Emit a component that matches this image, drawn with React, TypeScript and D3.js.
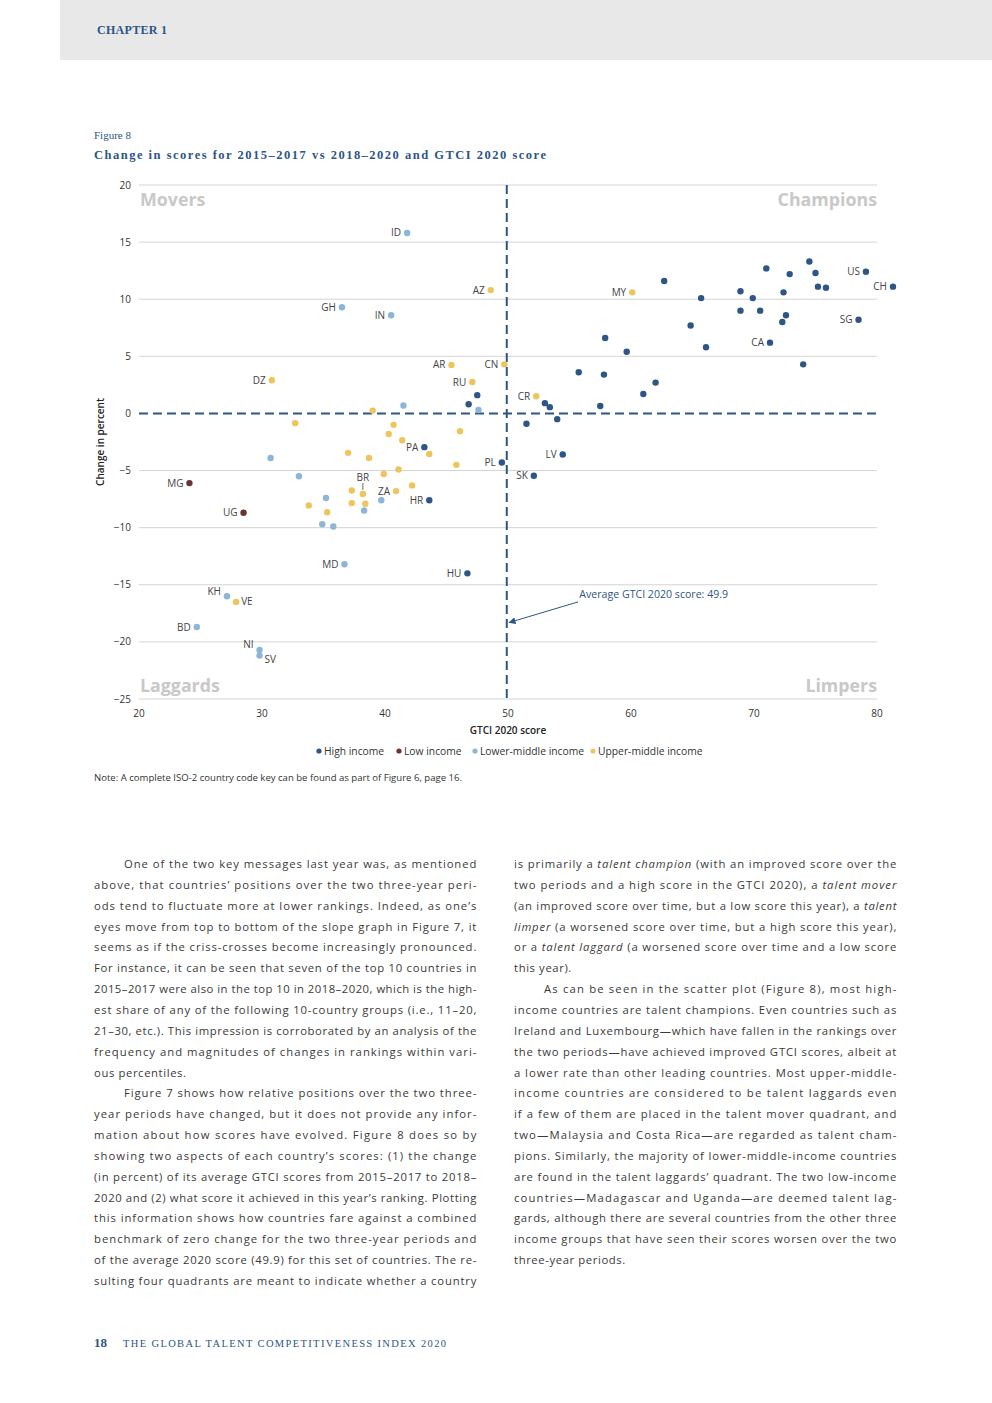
import React from "react";
import * as d3 from "d3";

// GTCI 2020 score, change in percent (2015-17 vs 2018-20)
type Pt = { code: string; score: number; change: number };

const highIncome: Pt[] = [
  { code: "CH", score: 81.3, change: 11.1 },
  { code: "US", score: 79.1, change: 12.4 },
  { code: "SG", score: 78.5, change: 8.2 },
  { code: "CA", score: 71.3, change: 6.2 },
  { code: "", score: 62.7, change: 11.6 },
  { code: "", score: 71.0, change: 12.7 },
  { code: "", score: 74.5, change: 13.3 },
  { code: "", score: 75.0, change: 12.3 },
  { code: "", score: 72.9, change: 12.2 },
  { code: "", score: 75.2, change: 11.1 },
  { code: "", score: 75.85, change: 11.0 },
  { code: "", score: 72.4, change: 10.6 },
  { code: "", score: 68.9, change: 10.7 },
  { code: "", score: 69.9, change: 10.1 },
  { code: "", score: 65.7, change: 10.1 },
  { code: "", score: 68.9, change: 9.0 },
  { code: "", score: 70.5, change: 9.0 },
  { code: "", score: 72.6, change: 8.6 },
  { code: "", score: 72.3, change: 8.0 },
  { code: "", score: 64.85, change: 7.7 },
  { code: "", score: 66.1, change: 5.8 },
  { code: "", score: 57.9, change: 6.6 },
  { code: "", score: 59.65, change: 5.4 },
  { code: "", score: 74.0, change: 4.3 },
  { code: "", score: 55.75, change: 3.6 },
  { code: "", score: 57.8, change: 3.4 },
  { code: "", score: 62.0, change: 2.7 },
  { code: "", score: 61.0, change: 1.7 },
  { code: "", score: 53.0, change: 0.9 },
  { code: "", score: 53.4, change: 0.55 },
  { code: "", score: 57.5, change: 0.65 },
  { code: "", score: 51.5, change: -0.9 },
  { code: "", score: 54.0, change: -0.5 },
  { code: "LV", score: 54.45, change: -3.6 },
  { code: "SK", score: 52.1, change: -5.45 },
  { code: "", score: 47.5, change: 1.6 },
  { code: "", score: 46.8, change: 0.8 },
  { code: "PA", score: 43.2, change: -2.95 },
  { code: "PL", score: 49.5, change: -4.3 },
  { code: "HR", score: 43.6, change: -7.6 },
  { code: "HU", score: 46.7, change: -14.0 },
];

const lowIncome: Pt[] = [
  { code: "MG", score: 24.1, change: -6.1 },
  { code: "UG", score: 28.5, change: -8.7 },
];

const lowerMiddle: Pt[] = [
  { code: "ID", score: 41.8, change: 15.8 },
  { code: "GH", score: 36.5, change: 9.3 },
  { code: "IN", score: 40.5, change: 8.6 },
  { code: "", score: 47.6, change: 0.3 },
  { code: "", score: 41.5, change: 0.7 },
  { code: "", score: 30.7, change: -3.9 },
  { code: "", score: 33.0, change: -5.5 },
  { code: "", score: 39.7, change: -7.6 },
  { code: "", score: 35.2, change: -7.4 },
  { code: "", score: 38.3, change: -8.5 },
  { code: "", score: 34.9, change: -9.7 },
  { code: "", score: 35.8, change: -9.9 },
  { code: "MD", score: 36.7, change: -13.2 },
  { code: "KH", score: 27.15, change: -16.0 },
  { code: "BD", score: 24.7, change: -18.7 },
  { code: "NI", score: 29.8, change: -20.7 },
  { code: "SV", score: 29.8, change: -21.2 },
];

const upperMiddle: Pt[] = [
  { code: "AZ", score: 48.6, change: 10.8 },
  { code: "MY", score: 60.1, change: 10.6 },
  { code: "AR", score: 45.4, change: 4.25 },
  { code: "CN", score: 49.7, change: 4.3 },
  { code: "RU", score: 47.1, change: 2.75 },
  { code: "DZ", score: 30.8, change: 2.9 },
  { code: "CR", score: 52.3, change: 1.5 },
  { code: "", score: 39.0, change: 0.25 },
  { code: "", score: 32.7, change: -0.85 },
  { code: "", score: 40.7, change: -1.0 },
  { code: "", score: 40.3, change: -1.8 },
  { code: "", score: 41.4, change: -2.35 },
  { code: "", score: 46.1, change: -1.55 },
  { code: "", score: 43.6, change: -3.55 },
  { code: "", score: 37.0, change: -3.45 },
  { code: "", score: 38.7, change: -3.9 },
  { code: "", score: 45.8, change: -4.5 },
  { code: "", score: 41.1, change: -4.9 },
  { code: "", score: 39.9, change: -5.3 },
  { code: "", score: 42.2, change: -6.3 },
  { code: "", score: 37.3, change: -6.75 },
  { code: "BR", score: 38.2, change: -7.05 },
  { code: "ZA", score: 40.9, change: -6.8 },
  { code: "", score: 33.8, change: -8.05 },
  { code: "", score: 37.3, change: -7.85 },
  { code: "", score: 38.4, change: -7.9 },
  { code: "", score: 35.3, change: -8.65 },
  { code: "VE", score: 27.9, change: -16.5 },
];

const groups = [
  { name: "High income", color: "#2d5585", points: highIncome },
  { name: "Low income", color: "#6a3431", points: lowIncome },
  { name: "Lower-middle income", color: "#8cb5d8", points: lowerMiddle },
  { name: "Upper-middle income", color: "#eec55c", points: upperMiddle },
];

const xTicks = [20, 30, 40, 50, 60, 70, 80];
const yTicks = [20, 15, 10, 5, 0, -5, -10, -15, -20, -25];
const averageScore = 49.9;

// label side: default left of the point
const labelSide: Record<string, string> = { VE: "right", SV: "rightBelow", NI: "leftAbove", BR: "above", KH: "leftAbove" };

const col1: { t: string; indent?: boolean; last?: boolean }[] = [
  { t: "One of the two key messages last year was, as mentioned", indent: true },
  { t: "above, that countries’ positions over the two three-year peri-" },
  { t: "ods tend to fluctuate more at lower rankings. Indeed, as one’s" },
  { t: "eyes move from top to bottom of the slope graph in Figure 7, it" },
  { t: "seems as if the criss-crosses become increasingly pronounced." },
  { t: "For instance, it can be seen that seven of the top 10 countries in" },
  { t: "2015–2017 were also in the top 10 in 2018–2020, which is the high-" },
  { t: "est share of any of the following 10-country groups (i.e., 11–20," },
  { t: "21–30, etc.). This impression is corroborated by an analysis of the" },
  { t: "frequency and magnitudes of changes in rankings within vari-" },
  { t: "ous percentiles.", last: true },
  { t: "Figure 7 shows how relative positions over the two three-", indent: true },
  { t: "year periods have changed, but it does not provide any infor-" },
  { t: "mation about how scores have evolved. Figure 8 does so by" },
  { t: "showing two aspects of each country’s scores: (1) the change" },
  { t: "(in percent) of its average GTCI scores from 2015–2017 to 2018–" },
  { t: "2020 and (2) what score it achieved in this year’s ranking. Plotting" },
  { t: "this information shows how countries fare against a combined" },
  { t: "benchmark of zero change for the two three-year periods and" },
  { t: "of the average 2020 score (49.9) for this set of countries. The re-" },
  { t: "sulting four quadrants are meant to indicate whether a country" },
];

const col2: { t: string; indent?: boolean; last?: boolean }[] = [
  { t: "is primarily a _talent champion_ (with an improved score over the" },
  { t: "two periods and a high score in the GTCI 2020), a _talent mover_" },
  { t: "(an improved score over time, but a low score this year), a _talent_" },
  { t: "_limper_ (a worsened score over time, but a high score this year)," },
  { t: "or a _talent laggard_ (a worsened score over time and a low score" },
  { t: "this year).", last: true },
  { t: "As can be seen in the scatter plot (Figure 8), most high-", indent: true },
  { t: "income countries are talent champions. Even countries such as" },
  { t: "Ireland and Luxembourg—which have fallen in the rankings over" },
  { t: "the two periods—have achieved improved GTCI scores, albeit at" },
  { t: "a lower rate than other leading countries. Most upper-middle-" },
  { t: "income countries are considered to be talent laggards even" },
  { t: "if a few of them are placed in the talent mover quadrant, and" },
  { t: "two—Malaysia and Costa Rica—are regarded as talent cham-" },
  { t: "pions. Similarly, the majority of lower-middle-income countries" },
  { t: "are found in the talent laggards’ quadrant. The two low-income" },
  { t: "countries—Madagascar and Uganda—are deemed talent lag-" },
  { t: "gards, although there are several countries from the other three" },
  { t: "income groups that have seen their scores worsen over the two" },
  { t: "three-year periods.", last: true },
];

const blue = "#2d5585";
const sans = "'Open Sans', 'DejaVu Sans', sans-serif";
const serif = "'Liberation Serif', 'DejaVu Serif', serif";

function Line({ x, y, w, item }: { x: number; y: number; w: number; item: { t: string; indent?: boolean; last?: boolean } }) {
  const parts = item.t.split("_");
  const x0 = item.indent ? x + 30 : x;
  const width = w - (item.indent ? 30 : 0);
  return (
    <text
      x={x0}
      y={y}
      fontFamily={sans}
      fontSize={11.3}
      letterSpacing={0.6}
      fill="#3a3a3a"
      {...(item.last ? {} : { textLength: width, lengthAdjust: "spacing" })}
    >
      {parts.map((p, i) => (
        <tspan key={i} fontStyle={i % 2 === 1 ? "italic" : "normal"}>
          {p}
        </tspan>
      ))}
    </text>
  );
}

export default function App() {
  const x = d3.scaleLinear().domain([20, 80]).range([139, 877]);
  const y = d3.scaleLinear().domain([-25, 20]).range([699, 185]);
  const lineGap = 20.85;

  const labels: React.ReactNode[] = [];
  groups.forEach((g) =>
    g.points.forEach((p, i) => {
      if (!p.code) return;
      const cx = x(p.score);
      const cy = y(p.change);
      const side = labelSide[p.code] || "left";
      const common = { fontFamily: sans, fontSize: 10, fill: "#444" };
      if (side === "above") {
        labels.push(
          <g key={g.name + i}>
            <text x={cx} y={cy - 13} textAnchor="middle" {...common}>
              {p.code}
            </text>
            <line x1={cx} x2={cx} y1={cy - 11} y2={cy - 4} stroke="#444" strokeWidth={0.8} />
          </g>
        );
      } else {
        const right = side.startsWith("right");
        const dy = side === "rightBelow" ? 7 : side === "leftAbove" ? -1.5 : 3.5;
        labels.push(
          <text key={g.name + i} x={right ? cx + 5 : cx - 6} y={cy + dy} textAnchor={right ? "start" : "end"} {...common}>
            {p.code}
          </text>
        );
      }
    })
  );

  const legendX = [316, 396, 472, 590];

  return (
    <div style={{ position: "absolute", left: 0, top: 0 }}>
      <svg width={992} height={1403} style={{ display: "block", background: "#fff" }}>
        <defs>
          <marker id="arrow" viewBox="0 0 10 10" refX={9} refY={5} markerWidth={7} markerHeight={7} orient="auto">
            <path d="M0,0 L10,5 L0,10 z" fill={blue} />
          </marker>
        </defs>

        {/* page header */}
        <rect x={60} y={0} width={932} height={60} fill="#e8e8e8" />
        <text x={97} y={34} fontFamily={serif} fontWeight="bold" fontSize={12} fill={blue} textLength={70}>
          CHAPTER 1
        </text>

        <text x={94} y={139} fontFamily={serif} fontSize={11} fill={blue}>
          Figure 8
        </text>
        <text x={94} y={159} fontFamily={serif} fontWeight="bold" fontSize={12.5} fill={blue} textLength={452} lengthAdjust="spacing">
          Change in scores for 2015–2017 vs 2018–2020 and GTCI 2020 score
        </text>

        {/* grid */}
        {yTicks.map((t) => (
          <g key={t}>
            {t !== 0 && <line x1={139} x2={877} y1={y(t)} y2={y(t)} stroke="#d4d4d4" strokeWidth={1} />}
            <text x={131} y={y(t) + 3.5} textAnchor="end" fontFamily={sans} fontSize={10} fill="#333">
              {t < 0 ? "−" + Math.abs(t) : t}
            </text>
          </g>
        ))}
        {xTicks.map((t) => (
          <text key={t} x={x(t)} y={717} textAnchor="middle" fontFamily={sans} fontSize={10} fill="#333">
            {t}
          </text>
        ))}
        <text x={508} y={734} textAnchor="middle" fontFamily={sans} fontSize={10} fontWeight={600} fill="#222">
          GTCI 2020 score
        </text>
        <text
          transform="translate(104,442) rotate(-90)"
          textAnchor="middle"
          fontFamily={sans}
          fontSize={10}
          fontWeight={600}
          fill="#222"
        >
          Change in percent
        </text>

        {/* quadrant names */}
        {[
          { t: "Movers", x: 140, y: 206, a: "start" },
          { t: "Champions", x: 877, y: 206, a: "end" },
          { t: "Laggards", x: 140, y: 692, a: "start" },
          { t: "Limpers", x: 877, y: 692, a: "end" },
        ].map((q) => (
          <text key={q.t} x={q.x} y={q.y} textAnchor={q.a as any} fontFamily={sans} fontWeight="bold" fontSize={17.8} fill="#c8c8c8">
            {q.t}
          </text>
        ))}

        {/* reference lines */}
        <line x1={139} x2={877} y1={y(0)} y2={y(0)} stroke={blue} strokeWidth={2} strokeDasharray="9,5" />
        <line x1={x(averageScore)} x2={x(averageScore)} y1={y(20)} y2={y(-25)} stroke={blue} strokeWidth={2} strokeDasharray="9,5" />

        {/* points */}
        {groups.map((g) =>
          g.points.map((p, i) => <circle key={g.name + i} cx={x(p.score)} cy={y(p.change)} r={3.2} fill={g.color} />)
        )}
        {labels}

        {/* annotation */}
        <line
          x1={x(55.7)}
          y1={y(-16.5)}
          x2={x(50.1)}
          y2={y(-18.3)}
          stroke={blue}
          strokeWidth={1}
          markerEnd="url(#arrow)"
        />
        <text x={x(55.8)} y={y(-16.2)} fontFamily={sans} fontSize={10.6} fill={blue}>
          Average GTCI 2020 score: 49.9
        </text>

        {/* legend */}
        {groups.map((g, i) => (
          <g key={g.name}>
            <circle cx={legendX[i] + 3} cy={751} r={2.6} fill={g.color} />
            <text x={legendX[i] + 8} y={754.5} fontFamily={sans} fontSize={10.3} fill="#333">
              {g.name}
            </text>
          </g>
        ))}

        <text x={94} y={781} fontFamily={sans} fontSize={8.6} fill="#333" textLength={368} lengthAdjust="spacingAndGlyphs">
          Note: A complete ISO-2 country code key can be found as part of Figure 6, page 16.
        </text>

        {/* body text */}
        {col1.map((item, i) => (
          <Line key={"a" + i} x={94} y={868 + i * lineGap} w={383} item={item} />
        ))}
        {col2.map((item, i) => (
          <Line key={"b" + i} x={514} y={868 + i * lineGap} w={383} item={item} />
        ))}

        {/* footer */}
        <text x={94} y={1347} fontFamily={serif} fontWeight="bold" fontSize={13} fill={blue}>
          18
        </text>
        <text x={123} y={1347} fontFamily={serif} fontSize={10.5} fill={blue} textLength={323} lengthAdjust="spacing">
          THE GLOBAL TALENT COMPETITIVENESS INDEX 2020
        </text>
      </svg>
    </div>
  );
}
